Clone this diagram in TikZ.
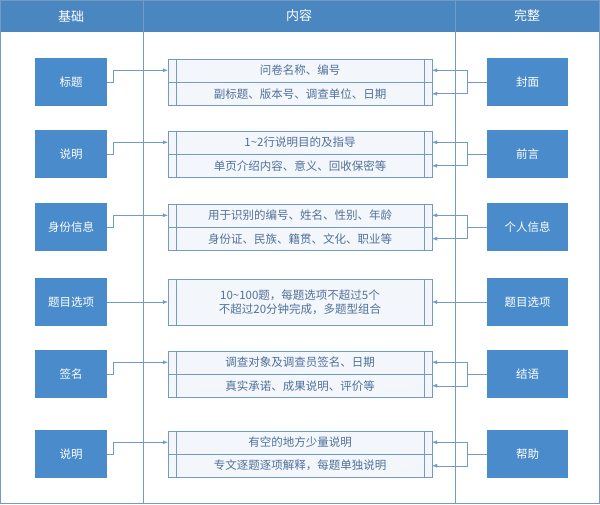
\documentclass[tikz,border=0pt]{standalone}
\usepackage{fontspec}
\setmainfont{Noto Sans CJK SC}
\usetikzlibrary{arrows.meta}
\definecolor{hdblue}{HTML}{4A86C0}
\definecolor{boxblue}{HTML}{4A8BCB}
\definecolor{linblue}{HTML}{7399C4}
\definecolor{cellfill}{HTML}{F3F6FB}
\definecolor{txtgrey}{HTML}{4F719B}
\begin{document}
\begin{tikzpicture}[x=1pt,y=-1pt,font=\fontsize{11.5}{14}\selectfont]
        %
        % `side' for the blue boxes on both sides,
        % `cell' for the rows of the middle boxes.
        \tikzset{side/.style={fill=boxblue,text=white,minimum width=72pt,minimum height=48pt,inner sep=0pt}}
        \tikzset{cell/.style={draw=linblue,fill=cellfill,text=txtgrey,minimum width=264pt,inner sep=0pt,align=center}}
        \tikzset{link/.style={draw=linblue,thin,-{Latex[length=5pt,width=4pt]}}}
        \useasboundingbox (0,0) rectangle (600,505);
        %
        % Frame and header
        \fill[hdblue] (0,0) rectangle (600,32);
        \draw[linblue,thin] (0.5,0.5) rectangle (599.5,503);
        \draw[linblue,thin] (143,0) -- (143,503);
        \draw[linblue,thin] (455,0) -- (455,503);
        \node[text=white,font=\fontsize{13}{15}\selectfont] (h1) at (71,16) {基础};
        \node[text=white,font=\fontsize{13}{15}\selectfont] (h2) at (299,16) {内容};
        \node[text=white,font=\fontsize{13}{15}\selectfont] (h3) at (527,16) {完整};
        %
        % Rows with two cells
        \foreach \n/\y/\l/\r/\a/\b in {
          1/82/标题/封面/问卷名称、编号/副标题、版本号、调查单位、日期,
          2/154/说明/前言/1\textasciitilde2行说明目的及指导/单页介绍内容、意义、回收保密等,
          3/227/身份信息/个人信息/用于识别的编号、姓名、性别、年龄/身份证、民族、籍贯、文化、职业等,
          5/374/签名/结语/调查对象及调查员签名、日期/真实承诺、成果说明、评价等,
          6/454/说明/帮助/有空的地方少量说明/专文逐题逐项解释，每题单独说明}{
          \node[side] (l\n) at (71,\y) {\l};
          \node[side,minimum width=81pt] (r\n) at (527.5,\y) {\r};
          \node[cell,minimum height=23pt,anchor=south] (ma\n) at (300,\y) {\a};
          \node[cell,minimum height=23pt,anchor=north] (mb\n) at (300,\y) {\b};
          \draw[linblue] (ma\n.north west) ++(8,0) -- ([xshift=8]mb\n.south west);
          \draw[linblue] (ma\n.north east) ++(-8,0) -- ([xshift=-8]mb\n.south east);
          \draw[link] (l\n.east) -| ++(6,-11.5) |- (ma\n.west);
          \draw[link] (r\n.west) -- ++(-20,0) |- (ma\n.east);
          \draw[link] (r\n.west) -- ++(-20,0) |- (mb\n.east);
        }
        %
        % Row with one cell
        \node[side] (l4) at (71,302) {题目选项};
        \node[side,minimum width=81pt] (r4) at (527.5,302) {题目选项};
        \node[cell,minimum height=46pt] (m4) at (300,302) {10\textasciitilde100题，每题选项不超过5个\\不超过20分钟完成，多题型组合};
        \draw[linblue] (m4.north west) ++(8,0) -- ([xshift=8]m4.south west);
        \draw[linblue] (m4.north east) ++(-8,0) -- ([xshift=-8]m4.south east);
        \draw[link] (l4.east) -- (m4.west);
        \draw[link] (r4.west) -- (m4.east);
        %
\end{tikzpicture}
\end{document}
